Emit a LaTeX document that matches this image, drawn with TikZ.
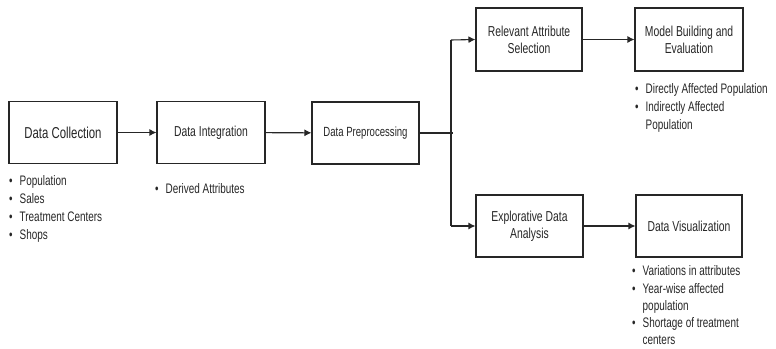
\documentclass[tikz,border=0pt]{standalone}
\usepackage{fontspec}
\setmainfont{Liberation Sans}[FakeStretch=0.72]
\usetikzlibrary{arrows.meta,calc}
\newcommand\bl{\makebox[10.5pt][l]{\textbullet}}
\newcommand\ind{\hspace*{10.5pt}}
\begin{document}
\begin{tikzpicture}[x=1pt,y=-1pt,
  box/.style={draw=black!85,line width=1.1pt,minimum height=62pt,align=center,inner sep=2pt,font=\fontsize{14.4}{17}\selectfont,text=black!85},
  conn/.style={line width=1.1pt,draw=black!85,-{Latex[length=7pt,width=7pt]}},
  lst/.style={anchor=north west,inner sep=0pt,align=left,font=\fontsize{13.8}{18}\selectfont,text=black!85}]
\useasboundingbox (0,0) rectangle (776,348);
\node[box,minimum width=108pt,font=\fontsize{15.8}{17}\selectfont] (dc) at (63,132.5) {Data Collection};
\node[box,minimum width=108pt] (di) at (211,132.5) {Data Integration};
\node[box,minimum width=107pt,font=\fontsize{13.3}{17}\selectfont] (dp) at (365.5,133) {Data Preprocessing};
\node[box,minimum width=106pt,minimum height=63pt] (ra) at (529,39.5) {Relevant Attribute\\Selection};
\node[box,minimum width=108pt,minimum height=63pt] (mb) at (689,39.5) {Model Building and\\Evaluation};
\node[box,minimum width=107pt] (ed) at (529.5,226) {Explorative Data\\Analysis};
\node[box,minimum width=106pt] (dv) at (689,226) {Data Visualization};
\coordinate (je) at (453,133);
\coordinate (jt) at (451,40);
\coordinate (jb) at (451,226);
\draw[conn] (dc) -- (di);
\draw[conn] (di) -- (dp);
\draw[line width=1.1pt,draw=black!85] (dp.east) -- (je);
\draw[line width=1.1pt,draw=black!85] (jt) -- (jb);
\draw[conn] (jt) -- (ra.west);
\draw[conn] (jb) -- (ed.west);
\draw[conn] (ra) -- (mb);
\draw[conn] (ed) -- (dv);
\node[lst] (l1) at (9,175.5) {\bl Population\\\bl Sales\\\bl Treatment Centers\\\bl Shops};
\node[lst] (l2) at (155,183.5) {\bl Derived Attributes};
\node[lst] (l3) at (635,83.5) {\bl Directly Affected Population\\\bl Indirectly Affected\\\ind Population};
\node[lst,font=\fontsize{13.8}{17.3}\selectfont] (l4) at (632,265.5) {\bl Variations in attributes\\\bl Year-wise affected\\\ind population\\\bl Shortage of treatment\\\ind centers};
\end{tikzpicture}
\end{document}
